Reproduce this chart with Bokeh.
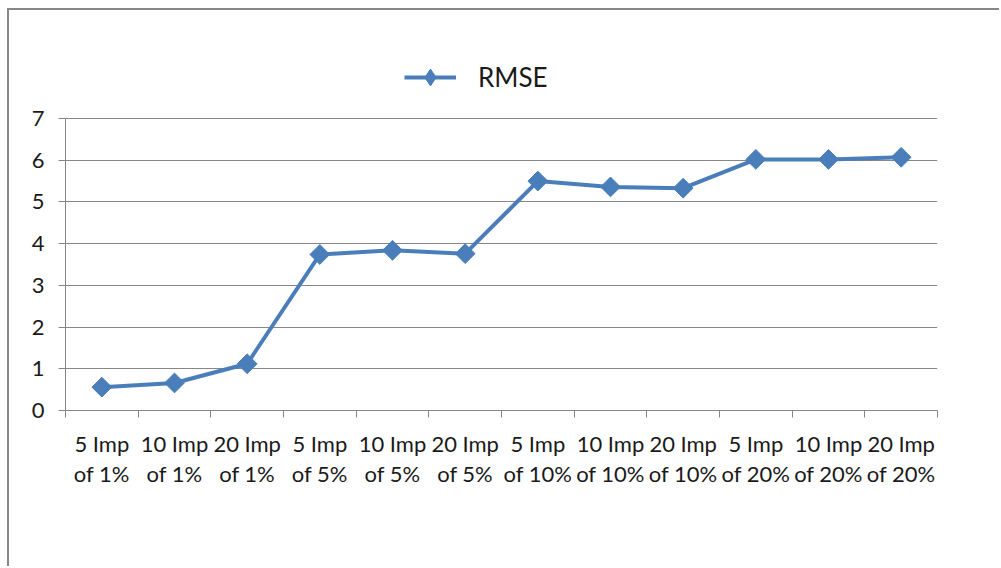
from bokeh.plotting import figure
from bokeh.models import Range1d, LinearAxis, FixedTicker, Grid, Legend, LegendItem
from bokeh.embed import file_html
from bokeh.resources import INLINE
import math

# ---- data ----
label_line1 = ["5 Imp", "10 Imp", "20 Imp", "5 Imp", "10 Imp", "20 Imp",
               "5 Imp", "10 Imp", "20 Imp", "5 Imp", "10 Imp", "20 Imp"]
label_line2 = ["of 1%", "of 1%", "of 1%", "of 5%", "of 5%", "of 5%",
               "of 10%", "of 10%", "of 10%", "of 20%", "of 20%", "of 20%"]
rmse = [0.56, 0.66, 1.12, 3.74, 3.84, 3.76, 5.50, 5.36, 5.33, 6.02, 6.02, 6.07]
y_ticks = [0, 1, 2, 3, 4, 5, 6, 7]
series_name = "RMSE"

n = len(rmse)
xs = [i + 0.5 for i in range(n)]
bounds = list(range(n + 1))

BLUE = "#4A7EBB"
GRAY = "#868686"
FONT = "Lato"
TXT = "#1a1a1a"

# frame extends above the value axis so the legend sits inside it
Y_TOP = 7 * (410 - 50) / (410 - 118)

p = figure(width=992, height=558, x_range=Range1d(0, n), y_range=Range1d(0, Y_TOP),
           output_backend="svg", toolbar_location=None,
           x_axis_location=None, y_axis_location=None,
           min_border_left=56, min_border_right=64, min_border_top=40, min_border_bottom=158)
p.center = []
p.outline_line_color = None
p.background_fill_color = "white"
p.border_fill_color = "white"
p.styles = {"margin-left": "7px", "margin-top": "8px",
            "border-top": "2px solid #888888", "border-left": "2px solid #888888"}

# y axis
yaxis = LinearAxis(ticker=FixedTicker(ticks=y_ticks), bounds=(0, 7))
yaxis.axis_line_color = GRAY
yaxis.major_tick_line_color = GRAY
yaxis.major_tick_in = 0
yaxis.major_tick_out = 7
yaxis.minor_tick_line_color = None
yaxis.major_label_text_font = FONT
yaxis.major_label_text_font_size = "22px"
yaxis.major_label_text_color = TXT
yaxis.major_label_standoff = 14
p.add_layout(yaxis, "left")

grid = Grid(dimension=1, ticker=FixedTicker(ticks=y_ticks))
grid.grid_line_color = GRAY
grid.grid_line_width = 1
p.add_layout(grid)

# x axis, first line of labels, with boundary ticks
x1 = LinearAxis(ticker=FixedTicker(ticks=xs, minor_ticks=bounds),
                major_label_overrides={xv: t for xv, t in zip(xs, label_line1)})
x1.axis_line_color = GRAY
x1.major_tick_line_color = None
x1.major_tick_in = 0
x1.major_tick_out = 0
x1.minor_tick_line_color = GRAY
x1.minor_tick_in = 0
x1.minor_tick_out = 7
x1.major_label_text_font = FONT
x1.major_label_text_font_size = "22px"
x1.major_label_text_color = TXT
x1.major_label_standoff = 12
p.add_layout(x1, "below")

# second line of labels
x2 = LinearAxis(ticker=FixedTicker(ticks=xs),
                major_label_overrides={xv: t for xv, t in zip(xs, label_line2)})
x2.axis_line_color = None
x2.major_tick_line_color = None
x2.major_tick_in = 0
x2.major_tick_out = 0
x2.minor_tick_line_color = None
x2.major_label_text_font = FONT
x2.major_label_text_font_size = "22px"
x2.major_label_text_color = TXT
x2.major_label_standoff = 0
p.add_layout(x2, "below")

ln = p.line(xs, rmse, line_color=BLUE, line_width=4, line_join="round")
# diamond glyph (used for the legend swatch), hidden beneath the rotated squares
dm = p.scatter(xs, rmse, marker="diamond", size=16, fill_color=BLUE, line_color=BLUE)
sc = p.scatter(xs, rmse, marker="square", size=14, angle=math.pi / 4,
               fill_color=BLUE, line_color=BLUE)

legend = Legend(items=[LegendItem(label=series_name, renderers=[ln, dm])],
                location=(339, 312))
legend.border_line_color = None
legend.background_fill_alpha = 0
legend.padding = 0
legend.margin = 0
legend.glyph_width = 52
legend.glyph_height = 42
legend.label_height = 30
legend.label_standoff = 22
legend.label_text_font = FONT
legend.label_text_font_size = "26px"
legend.label_text_color = TXT
p.add_layout(legend, "center")

open("out.html", "w").write(file_html(p, INLINE))
